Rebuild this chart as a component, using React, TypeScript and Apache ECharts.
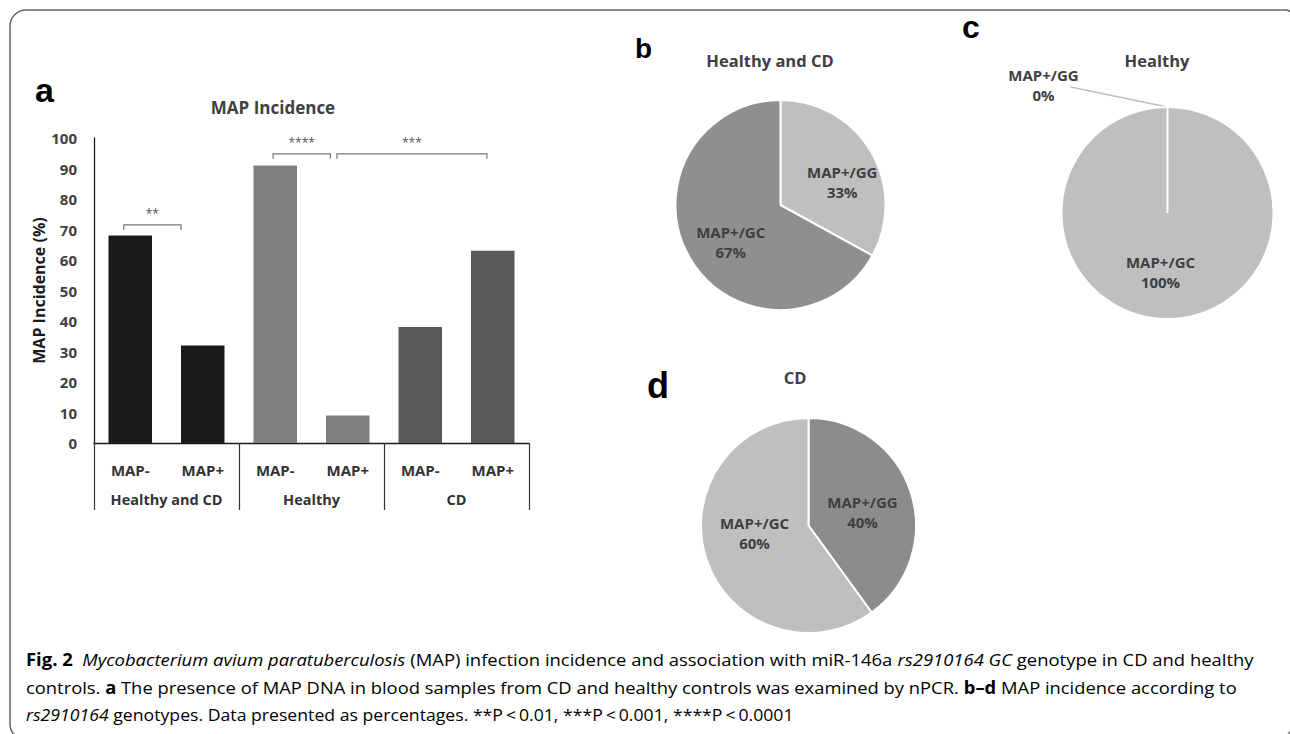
import React, { useEffect, useRef } from 'react';
import * as echarts from 'echarts';

// ---------- data ----------
const barCategories = ['MAP-', 'MAP+', 'MAP-', 'MAP+', 'MAP-', 'MAP+'];
const groupNames = ['Healthy and CD', 'Healthy', 'CD'];
const barValues = [68, 32, 91, 9, 38, 63];
const barColors = ['#1a1a1a', '#1a1a1a', '#7f7f7f', '#7f7f7f', '#595959', '#595959'];
const yMin = 0;
const yMax = 100;
const yInterval = 10;

// significance brackets: [start position, end position (category units), level (%)]
const brackets = [
  [-0.09, 0.7, 71.5],
  [1.97, 2.76, 94.8],
  [2.85, 4.92, 94.8],
];
const bracketLabels = ['**', '****', '***'];

const pieNames = ['MAP+/GG', 'MAP+/GC'];
const pieHealthyCD = [33, 67];
const pieHealthy = [0, 100];
const pieCD = [40, 60];

const captionLines: [string, string][][] = [
  [
    ['f', 'Fig. 2'],
    ['n', '  '],
    ['i', 'Mycobacterium avium paratuberculosis'],
    ['n', ' (MAP) infection incidence and association with miR-146a '],
    ['i', 'rs2910164 GC'],
    ['n', ' genotype in CD and healthy'],
  ],
  [
    ['n', 'controls. '],
    ['b', 'a'],
    ['n', ' The presence of MAP DNA in blood samples from CD and healthy controls was examined by nPCR. '],
    ['b', 'b\u2013d'],
    ['n', ' MAP incidence according to'],
  ],
  [
    ['i', 'rs2910164'],
    ['n', ' genotypes. Data presented as percentages. **P\u2009<\u20090.01, ***P\u2009<\u20090.001, ****P\u2009<\u20090.0001'],
  ],
];

const FONT = '"Open Sans", "Noto Sans", sans-serif';
const ARIAL = '"Liberation Sans", Arial, sans-serif';
const CAP_SIZE = 17;

function measureLine(segs: [string, string][]) {
  const c = document.createElement('canvas');
  const ctx = c.getContext('2d')!;
  let w = 0;
  for (const [k, t] of segs) {
    const it = k === 'i' ? 'italic ' : '';
    const bd = k === 'b' || k === 'f' ? 'bold ' : '';
    ctx.font = `${it}${bd}${CAP_SIZE}px "Open Sans"`;
    w += ctx.measureText(t).width;
  }
  return w;
}

// label nudges for the inside pie labels (pixels), per pie and slice
const nudgeB = [[14, 5], [-2, 9]];
const nudgeC = [[0, 0], [-7, 3]];
const nudgeD = [[0, 4], [0, -10]];

export default function App() {
  const ref = useRef<HTMLDivElement>(null);
  useEffect(() => {
    if (!ref.current) return;
    const chart = echarts.init(ref.current, null, { renderer: 'svg' });

    const rich = {
      n: { fontFamily: FONT, fontSize: CAP_SIZE, color: '#2b2b2b' },
      i: { fontFamily: FONT, fontSize: CAP_SIZE, fontStyle: 'italic', color: '#2b2b2b' },
      b: { fontFamily: FONT, fontSize: CAP_SIZE, fontWeight: 'bold', color: '#1a1a1a' },
      f: { fontFamily: FONT, fontSize: CAP_SIZE, fontWeight: 'bold', color: '#111' },
    };
    const capTargets = [1228, 1211, 768];
    const capY = [659, 687, 714];
    const captionEls = captionLines.map((segs, li) => {
      const w = measureLine(segs);
      const s = w > 0 ? capTargets[li] / w : 0.85;
      return {
        type: 'text',
        x: 26,
        y: capY[li],
        scaleX: s,
        style: {
          text: segs.map(([k, t]) => `{${k}|${t}}`).join(''),
          rich,
          verticalAlign: 'middle',
          align: 'left',
        },
      };
    });

    const titleText = (text: string, x: number, y: number, size: number) => ({
      type: 'text',
      x,
      y,
      style: { text, fontFamily: FONT, fontSize: size, fontWeight: 'bold', fill: '#404040', align: 'center', verticalAlign: 'middle' },
    });
    const letter = (text: string, x: number, y: number, size: number) => ({
      type: 'text',
      x,
      y,
      style: { text, fontFamily: ARIAL, fontSize: size, fontWeight: 'bold', fill: '#000', align: 'left', verticalAlign: 'middle' },
    });

    const pieLabel = {
      position: 'inside',
      formatter: '{b}\n{c}%',
      fontFamily: FONT,
      fontSize: 15,
      fontWeight: 'bold',
      color: '#404040',
      lineHeight: 20,
    };
    const pieBase = {
      type: 'pie',
      startAngle: 90,
      clockwise: true,
      avoidLabelOverlap: false,
      itemStyle: { borderColor: '#ffffff', borderWidth: 2 },
      label: pieLabel,
      labelLine: { show: false },
      emphasis: { disabled: true },
    };
    const nudge = (table: number[][]) => (params: any) => {
      const d = table[params.dataIndex] || [0, 0];
      return { dx: d[0], dy: d[1] };
    };

    const pieCCenter = [1167.5, 213];
    const pieCRadius = 106;

    const option: any = {
      animation: false,
      backgroundColor: '#ffffff',
      grid: { left: 94, top: 138, width: 435, height: 305, containLabel: false },
      xAxis: [
        {
          type: 'category',
          data: barCategories,
          position: 'bottom',
          axisLine: { show: true, onZero: false, lineStyle: { color: '#1a1a1a', width: 1.3 } },
          axisTick: { show: false },
          axisLabel: { interval: 0, margin: 19, fontFamily: FONT, fontSize: 15, fontWeight: 'bold', color: '#333' },
        },
        {
          type: 'category',
          data: groupNames,
          position: 'bottom',
          axisLine: { show: false, onZero: false },
          axisTick: { show: true, interval: 0, length: 67, lineStyle: { color: '#333', width: 1.2 } },
          axisLabel: { interval: 0, margin: 49, fontFamily: FONT, fontSize: 14.5, fontWeight: 'bold', color: '#333' },
        },
        { type: 'value', min: -0.5, max: 5.5, show: false, axisLine: { onZero: false } },
      ],
      yAxis: {
        type: 'value',
        min: yMin,
        max: yMax,
        interval: yInterval,
        axisLine: { show: true, onZero: false, lineStyle: { color: '#1a1a1a', width: 1.3 } },
        axisTick: { show: false },
        splitLine: { show: false },
        axisLabel: { margin: 17, fontFamily: FONT, fontSize: 15, fontWeight: 'bold', color: '#404040' },
        name: 'MAP Incidence (%)',
        nameLocation: 'middle',
        nameGap: 44,
        nameTextStyle: { fontFamily: FONT, fontSize: 16, fontWeight: 'bold', color: '#1a1a1a' },
      },
      series: [
        {
          type: 'bar',
          xAxisIndex: 0,
          yAxisIndex: 0,
          barWidth: '60%',
          data: barValues.map((v, i) => ({ value: v, itemStyle: { color: barColors[i] } })),
          emphasis: { disabled: true },
        },
        {
          type: 'custom',
          xAxisIndex: 2,
          yAxisIndex: 0,
          coordinateSystem: 'cartesian2d',
          dimensions: [
            { name: 'start', type: 'float' },
            { name: 'end', type: 'float' },
            { name: 'level', type: 'float' },
          ],
          encode: { x: [0, 1], y: 2 },
          data: brackets,
          silent: true,
          renderItem: (params: any, api: any) => {
            const p0 = api.coord([api.value(0), api.value(2)]);
            const p1 = api.coord([api.value(1), api.value(2)]);
            const y = p0[1];
            return {
              type: 'group',
              children: [
                {
                  type: 'polyline',
                  shape: { points: [[p0[0], y + 5], [p0[0], y], [p1[0], y], [p1[0], y + 5]] },
                  style: { stroke: '#777', lineWidth: 1.2, fill: 'none' },
                },
                {
                  type: 'text',
                  x: (p0[0] + p1[0]) / 2,
                  y: y - 11,
                  style: {
                    text: bracketLabels[params.dataIndex],
                    align: 'center',
                    verticalAlign: 'middle',
                    fontFamily: FONT,
                    fontSize: 12,
                    fill: '#555',
                  },
                },
              ],
            };
          },
        },
        {
          ...pieBase,
          name: 'Healthy and CD',
          center: [780.5, 205],
          radius: 105,
          labelLayout: nudge(nudgeB),
          data: pieNames.map((n, i) => ({
            name: n,
            value: pieHealthyCD[i],
            itemStyle: { color: i === 0 ? '#bfbfbf' : '#8f8f8f' },
          })),
        },
        {
          ...pieBase,
          name: 'Healthy',
          center: pieCCenter,
          radius: pieCRadius,
          data: pieNames.map((n, i) => ({
            name: n,
            value: pieHealthy[i],
            itemStyle: { color: '#bfbfbf' },
            ...(i === 0
              ? {
                  label: { position: 'outside' },
                  labelLine: { show: true, lineStyle: { color: '#bfbfbf', width: 1.5 } },
                }
              : {}),
          })),
          labelLayout: (params: any) => {
            if (params.dataIndex !== 0) {
              const d = nudgeC[params.dataIndex];
              return { dx: d[0], dy: d[1] };
            }
            const top = [pieCCenter[0], pieCCenter[1] - pieCRadius];
            return {
              x: top[0] - 124,
              y: top[1] - 22,
              align: 'center',
              verticalAlign: 'middle',
              labelLinePoints: [top, [top[0] - 97, top[1] - 20], [top[0] - 97, top[1] - 20]],
            };
          },
        },
        {
          ...pieBase,
          name: 'CD',
          center: [808.5, 525.5],
          radius: 107.5,
          labelLayout: nudge(nudgeD),
          data: pieNames.map((n, i) => ({
            name: n,
            value: pieCD[i],
            itemStyle: { color: i === 0 ? '#8c8c8c' : '#bfbfbf' },
          })),
        },
      ],
      graphic: [
        {
          type: 'rect',
          shape: { x: 10, y: 10, width: 1282, height: 730, r: [16, 6, 16, 16] },
          style: { fill: 'none', stroke: '#666', lineWidth: 1.5 },
          silent: true,
        },
        // border of the empty (0 %) slice of pie c
        {
          type: 'line',
          shape: { x1: pieCCenter[0], y1: pieCCenter[1], x2: pieCCenter[0], y2: pieCCenter[1] - pieCRadius },
          style: { stroke: '#ffffff', lineWidth: 2 },
          z: 10,
          silent: true,
        },
        letter('a', 35, 90, 34),
        letter('b', 635, 48, 28),
        letter('c', 962, 27, 32),
        letter('d', 647, 385, 36),
        titleText('MAP Incidence', 273, 107, 17),
        titleText('Healthy and CD', 770, 60, 16.5),
        titleText('Healthy', 1157, 60, 16.5),
        titleText('CD', 795, 377, 16.5),
        ...captionEls,
      ],
    };
    chart.setOption(option);
    return () => chart.dispose();
  }, []);
  return <div ref={ref} style={{ position: 'absolute', left: 0, top: 0, width: 1290, height: 734 }} />;
}
